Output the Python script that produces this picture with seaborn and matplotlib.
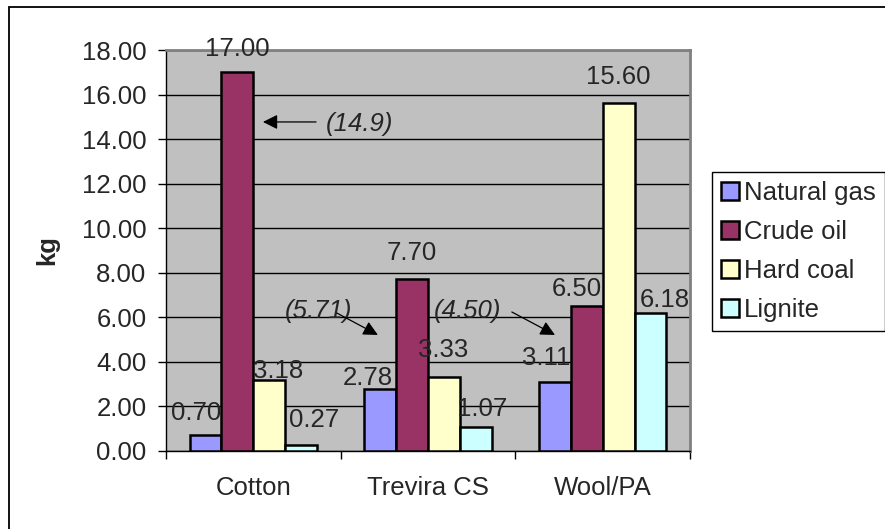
import matplotlib.pyplot as plt
import pandas as pd
import seaborn as sns
from matplotlib.patches import Rectangle

# chart data
fabrics = ['Cotton', 'Trevira CS', 'Wool/PA']
sources = ['Natural gas', 'Crude oil', 'Hard coal', 'Lignite']
natural_gas = [0.70, 2.78, 3.11]
crude_oil = [17.00, 7.70, 6.50]
hard_coal = [3.18, 3.33, 15.60]
lignite = [0.27, 1.07, 6.18]
y_ticks = [0, 2, 4, 6, 8, 10, 12, 14, 16, 18]
notes = ['(14.9)', '(5.71)', '(4.50)']

colors = ['#9999FF', '#993366', '#FFFFCC', '#CCFFFF']

rows = []
for src, vals in zip(sources, [natural_gas, crude_oil, hard_coal, lignite]):
    for fab, v in zip(fabrics, vals):
        rows.append({'fabric': fab, 'source': src, 'kg': v})
df = pd.DataFrame(rows)

sns.set_style('white')
plt.rcParams['font.family'] = ['Liberation Sans', 'DejaVu Sans']
FS = 18.5

fig = plt.figure(figsize=(8.85, 5.29), dpi=100)
ax = fig.add_axes([166 / 885, 1 - 451 / 529, 524 / 885, 401 / 529])
ax.set_facecolor('#C0C0C0')

sns.barplot(data=df, x='fabric', y='kg', hue='source', order=fabrics,
            hue_order=sources, palette=colors, saturation=1, width=0.73,
            edgecolor='black', linewidth=1.8, ax=ax, zorder=3)

# value labels, nudged like in the original (pixels)
label_dx = [[-9, -12, -9], [0, 0, -10], [9, -1, 0], [13, 6, 14]]
label_dy = [[15, 4, 17], [16, 19, 10], [2, 20, 19], [18, 11, 6]]
for i, cont in enumerate(ax.containers):
    for j, bar in enumerate(cont):
        h = bar.get_height()
        ax.annotate(f'{h:.2f}', xy=(bar.get_x() + bar.get_width() / 2, h),
                    xytext=(label_dx[i][j], label_dy[i][j]),
                    textcoords='offset pixels', ha='center', va='baseline',
                    fontsize=FS, zorder=5, annotation_clip=False)

# italic notes with arrows
note_text_xy = [(0.416, 14.36), (0.181, 5.97), (1.034, 5.97)]
arrow_from = [(0.359, 14.77), (0.479, 6.19), (1.48, 6.24)]
arrow_to = [(0.055, 14.77), (0.713, 5.21), (1.727, 5.21)]
for t, txy, a0, a1 in zip(notes, note_text_xy, arrow_from, arrow_to):
    ax.text(txy[0], txy[1], t, style='italic', fontsize=FS, ha='left',
            va='baseline', zorder=5)
    ax.annotate('', xy=a1, xytext=a0,
                arrowprops=dict(arrowstyle='-|>', color='black', lw=0.9,
                                mutation_scale=22, shrinkA=0, shrinkB=0),
                zorder=5)

ax.set_ylim(0, 18)
ax.set_xlim(-0.5, 2.5)
ax.set_yticks(y_ticks)
ax.set_yticklabels([f'{v:.2f}' for v in y_ticks], fontsize=FS)
ax.yaxis.grid(True, color='black', lw=1)
ax.set_axisbelow(True)
ax.tick_params(axis='y', left=True, length=6, width=1, pad=8, color='black')

ax.set_xticks([-0.5, 0.5, 1.5, 2.5])
ax.set_xticklabels([])
ax.set_xticks([0, 1, 2], minor=True)
ax.set_xticklabels(fabrics, minor=True, fontsize=FS)
ax.tick_params(axis='x', which='major', bottom=True, length=6, width=1,
               color='black')
ax.tick_params(axis='x', which='minor', bottom=True, length=0, pad=18)

ax.set_xlabel('')
ax.set_ylabel('kg', fontsize=FS, fontweight='bold', labelpad=16)

for s in ['left', 'bottom']:
    ax.spines[s].set_color('black')
    ax.spines[s].set_linewidth(1)
for s in ['top', 'right']:
    ax.spines[s].set_color('#808080')
    ax.spines[s].set_linewidth(2)

leg = ax.legend(loc='upper left', bbox_to_anchor=(712 / 885, 1 - 172 / 529),
                bbox_transform=fig.transFigure, borderaxespad=0,
                fontsize=FS, frameon=True, fancybox=False, framealpha=1,
                edgecolor='black', handlelength=0.68, handleheight=0.68,
                handletextpad=0.22, labelspacing=0.58, borderpad=0.36,
                title=None)
leg.get_frame().set_linewidth(1)

fig.add_artist(Rectangle((9 / 885, -0.5), 2, 1.5 - 7 / 529,
                         transform=fig.transFigure, fill=False,
                         edgecolor='black', lw=1.3))

fig.savefig('out.png', dpi=100)
